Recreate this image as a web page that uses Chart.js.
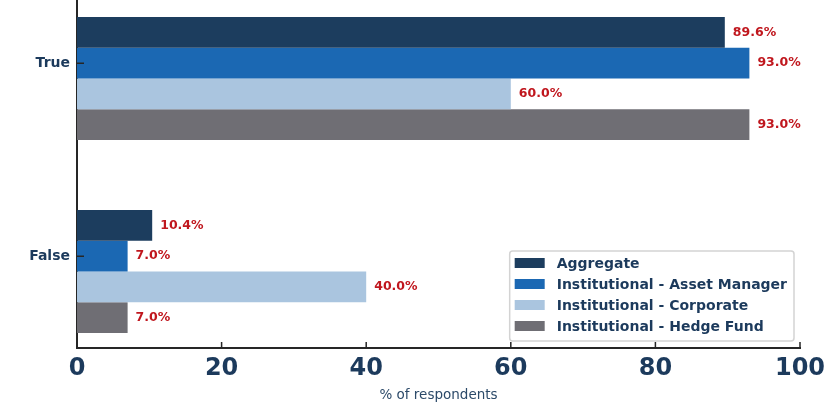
<!DOCTYPE html>
<html>
<head>
<meta charset="utf-8">
<script src="https://cdn.jsdelivr.net/npm/chart.js@4.4.0/dist/chart.umd.min.js"></script>
<style>
  html, body { margin: 0; padding: 0; background: #fff; }
  #wrap { width: 837px; height: 404px; }
</style>
</head>
<body>
<div id="wrap"><canvas id="surveyChart"></canvas></div>
<script>
// data
const categories = ["True", "False"];
const seriesNames = [
  "Aggregate",
  "Institutional - Asset Manager",
  "Institutional - Corporate",
  "Institutional - Hedge Fund",
];
const aggregate = [89.6, 10.4];
const assetManager = [93.0, 7.0];
const corporate = [60.0, 40.0];
const hedgeFund = [93.0, 7.0];
const xTicks = [0, 20, 40, 60, 80, 100];

const seriesValues = [aggregate, assetManager, corporate, hedgeFund];
const seriesColors = ["#1c3d5e", "#1b68b3", "#aac5df", "#6f6e74"];

const NAVY = "#1c3a5c";
const RED = "#c0171e";
const FONT = "'DejaVu Sans', sans-serif";
const GROUP_SPAN = 0.637; // share of one category step taken by the 4 bars

// label on the 2nd bar of each group, like the original
const tickOffset = -GROUP_SPAN / 8;

// percentage labels at bar ends
const valueLabels = {
  id: "valueLabels",
  afterDatasetsDraw(chart) {
    const ctx = chart.ctx;
    ctx.save();
    ctx.font = "bold 12.5px " + FONT;
    ctx.fillStyle = RED;
    ctx.textAlign = "left";
    ctx.textBaseline = "middle";
    chart.data.datasets.forEach((ds, i) => {
      chart.getDatasetMeta(i).data.forEach((bar, j) => {
        ctx.fillText(ds.data[j].x.toFixed(1) + "%", bar.x + 8, bar.y);
      });
    });
    ctx.restore();
  },
};

// inward tick marks
const innerTicks = {
  id: "innerTicks",
  afterDraw(chart) {
    const ctx = chart.ctx;
    const { left, bottom } = chart.chartArea;
    ctx.save();
    ctx.strokeStyle = "#262626";
    ctx.lineWidth = 1.5;
    ctx.beginPath();
    chart.scales.x.ticks.forEach((t) => {
      const px = chart.scales.x.getPixelForValue(t.value);
      ctx.moveTo(px, bottom);
      ctx.lineTo(px, bottom - 6);
    });
    chart.scales.y.ticks.forEach((t) => {
      const py = chart.scales.y.getPixelForValue(t.value);
      ctx.moveTo(left, py);
      ctx.lineTo(left + 7, py);
    });
    ctx.stroke();
    ctx.restore();
  },
};

// legend boxed inside the lower right corner
const insideLegend = {
  id: "insideLegend",
  afterDraw(chart) {
    const ctx = chart.ctx;
    const { right, bottom } = chart.chartArea;
    ctx.save();
    ctx.font = "bold 14px " + FONT;
    const widest = Math.max(...chart.data.datasets.map((d) => ctx.measureText(d.label).width));
    const rowH = 21;
    const w = widest + 54;
    const h = 12 + rowH * 3 + 15;
    const x0 = right - 6 - w;
    const y0 = bottom - 7 - h;
    ctx.fillStyle = "rgba(255,255,255,0.85)";
    ctx.strokeStyle = "#d3d3d3";
    ctx.lineWidth = 1.5;
    ctx.beginPath();
    ctx.roundRect(x0, y0, w, h, 3);
    ctx.fill();
    ctx.stroke();
    ctx.textBaseline = "middle";
    chart.data.datasets.forEach((d, i) => {
      const cy = y0 + 12 + i * rowH;
      ctx.fillStyle = d.backgroundColor;
      ctx.fillRect(x0 + 5, cy - 5, 30, 10);
      ctx.fillStyle = NAVY;
      ctx.fillText(d.label, x0 + 47, cy + 1);
    });
    ctx.restore();
  },
};

const noPad = (scale) => {
  scale.paddingTop = 0;
  scale.paddingBottom = 0;
  scale.paddingLeft = 0;
  scale.paddingRight = 0;
};

const ctx = document.getElementById("surveyChart").getContext("2d");
new Chart(ctx, {
  type: "bar",
  data: {
    datasets: seriesNames.map((name, i) => ({
      label: name,
      data: categories.map((c, j) => ({ x: seriesValues[i][j], y: j })),
      backgroundColor: seriesColors[i],
      borderWidth: 0,
      categoryPercentage: GROUP_SPAN,
      barPercentage: 1,
    })),
  },
  options: {
    indexAxis: "y",
    responsive: true,
    maintainAspectRatio: false,
    animation: false,
    layout: { autoPadding: false, padding: { left: 0, top: 0, right: 37, bottom: 0 } },
    scales: {
      x: {
        type: "linear",
        min: 0,
        max: 100,
        afterBuildTicks: (scale) => {
          scale.ticks = xTicks.map((v) => ({ value: v }));
        },
        afterFit: (scale) => {
          scale.height = 56;
          noPad(scale);
        },
        grid: { display: false, drawTicks: false },
        border: { display: true, color: "#262626", width: 2 },
        ticks: {
          color: NAVY,
          font: { family: FONT, size: 24, weight: "bold" },
          padding: 6,
          maxRotation: 0,
        },
        title: {
          display: true,
          text: "% of respondents",
          color: "#2c4a69",
          font: { family: FONT, size: 13.5 },
          padding: { top: 0, bottom: 0 },
        },
      },
      y: {
        type: "linear",
        reverse: true,
        offset: false,
        min: -0.4067,
        max: 1.3964,
        afterBuildTicks: (scale) => {
          scale.ticks = categories.map((c, j) => ({ value: j + tickOffset }));
        },
        afterFit: (scale) => {
          scale.width = 77;
          noPad(scale);
        },
        grid: { display: false, drawTicks: false, offset: false },
        border: { display: true, color: "#262626", width: 2 },
        ticks: {
          color: NAVY,
          font: { family: FONT, size: 14, weight: "bold" },
          padding: 7,
          callback: (value, index) => categories[index],
        },
      },
    },
    plugins: {
      legend: { display: false },
      tooltip: { enabled: false },
    },
  },
  plugins: [valueLabels, innerTicks, insideLegend],
});
</script>
</body>
</html>
